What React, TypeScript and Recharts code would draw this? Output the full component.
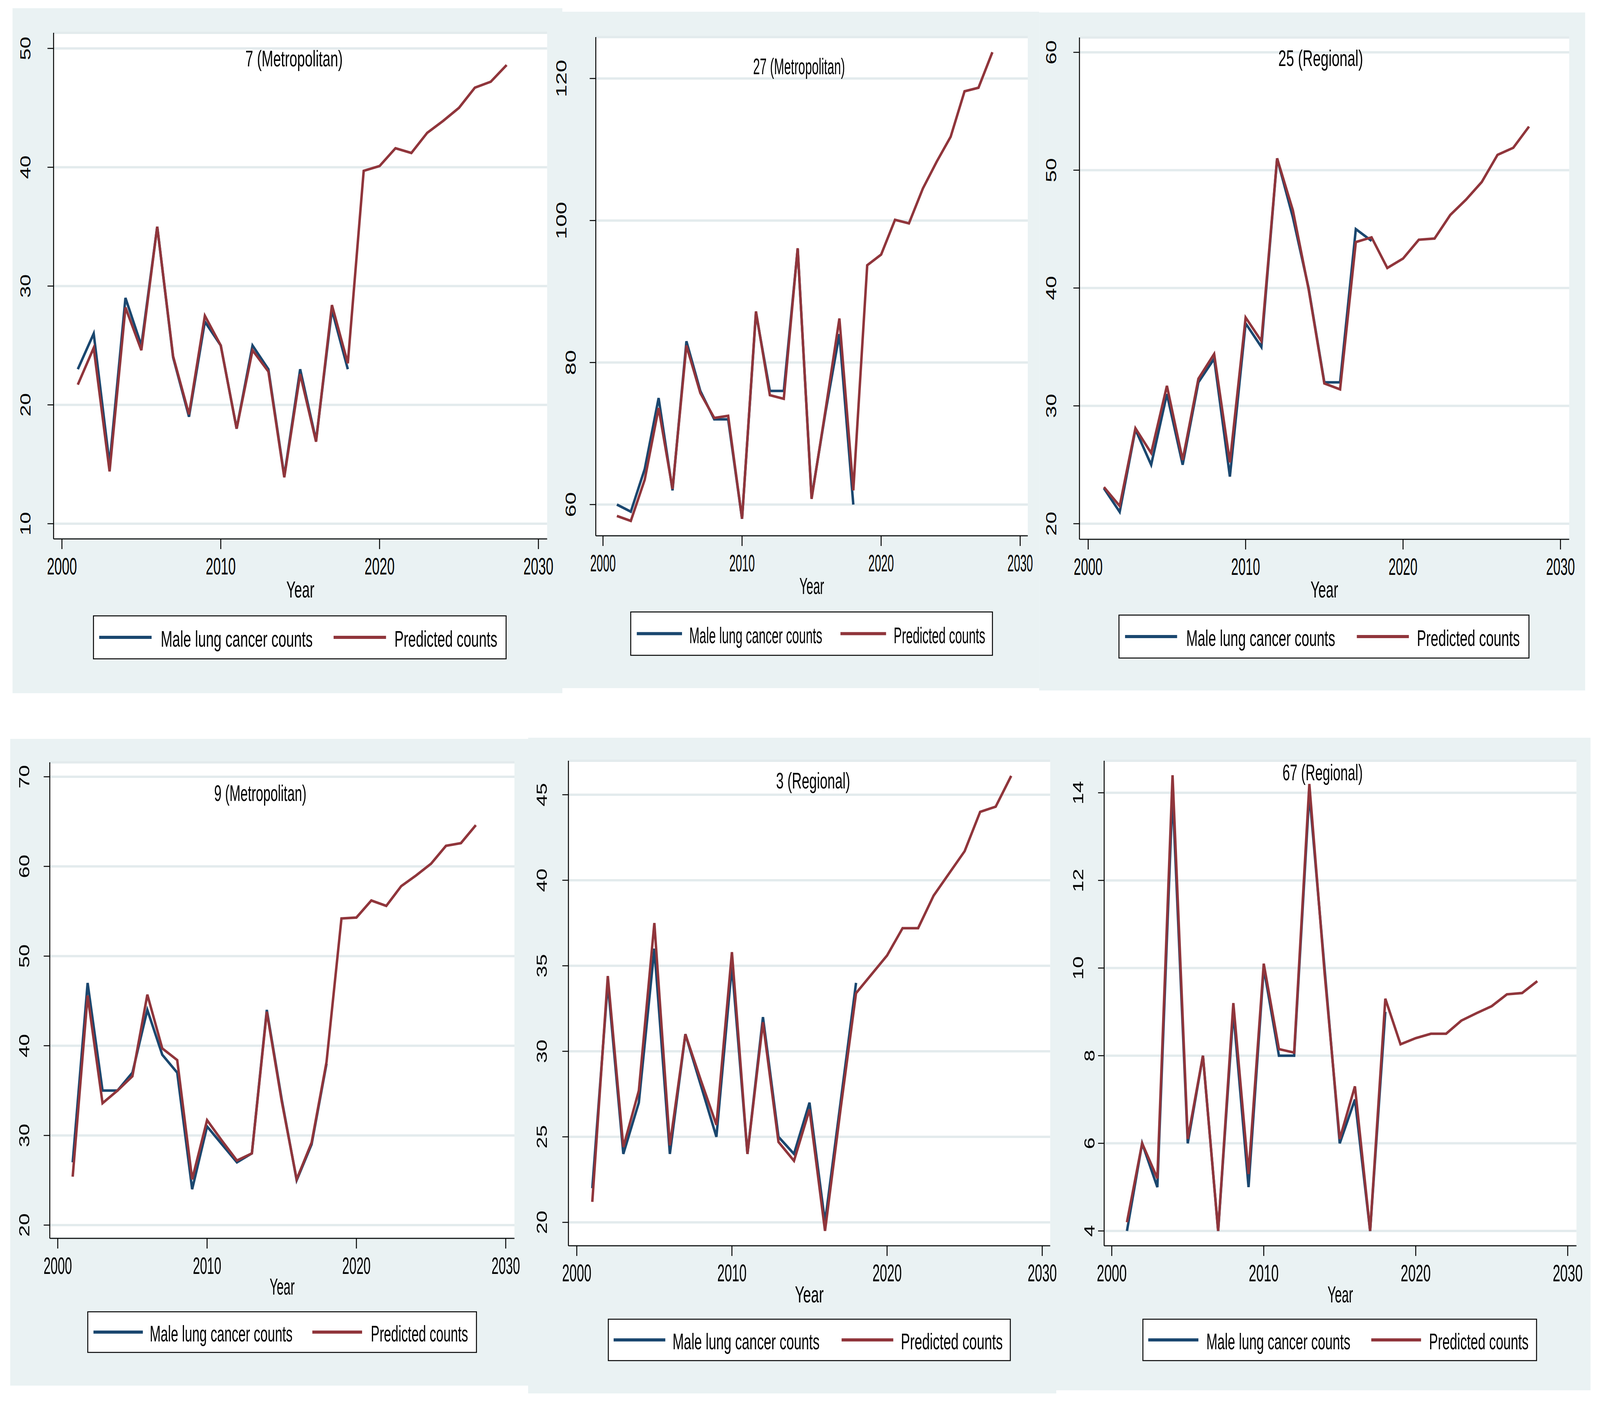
import React from 'react';
import { LineChart, Line, XAxis, YAxis, CartesianGrid } from 'recharts';

// ---------- data ----------
const years = [2001, 2002, 2003, 2004, 2005, 2006, 2007, 2008, 2009, 2010, 2011, 2012, 2013, 2014, 2015, 2016, 2017, 2018, 2019, 2020, 2021, 2022, 2023, 2024, 2025, 2026, 2027, 2028];
const xTickValues = [2000, 2010, 2020, 2030];

const obs7 = [23, 26, 15, 29, 25, 35, 24, 19, 27, 25, 18, 25, 23, 14, 23, 17, 28, 23];
const pred7 = [21.7, 24.8, 14.4, 28.2, 24.6, 35.0, 24.1, 19.2, 27.5, 25.0, 18.0, 24.6, 22.8, 13.9, 22.6, 16.9, 28.4, 23.5, 39.7, 40.1, 41.6, 41.2, 42.9, 43.9, 45.0, 46.7, 47.2, 48.6];
const ticks7 = [10, 20, 30, 40, 50];

const obs27 = [60, 59, 65, 75, 62, 83, 76, 72, 72, 58, 87, 76, 76, 96, 61, 73, 84, 60];
const pred27 = [58.4, 57.7, 63.5, 73.6, 62.2, 82.4, 75.7, 72.2, 72.5, 58.0, 87.2, 75.4, 74.9, 96.1, 60.8, 73.3, 86.2, 62.0, 93.7, 95.2, 100.1, 99.6, 104.5, 108.3, 111.8, 118.2, 118.7, 123.7];
const ticks27 = [60, 80, 100, 120];

const obs25 = [23, 21, 28, 25, 31, 25, 32, 34, 24, 37, 35, 51, 46, 40, 32, 32, 45, 44];
const pred25 = [23.1, 21.5, 28.1, 26.0, 31.7, 25.4, 32.3, 34.4, 25.2, 37.5, 35.5, 51.0, 46.6, 39.9, 31.9, 31.4, 43.9, 44.3, 41.7, 42.5, 44.1, 44.2, 46.2, 47.5, 49.0, 51.3, 51.9, 53.7];
const ticks25 = [20, 30, 40, 50, 60];

const obs9 = [27, 47, 35, 35, 37, 44, 39, 37, 24, 31, 29, 27, 28, 44, 34, 25, 29, 38];
const pred9 = [25.4, 45.6, 33.6, 35.0, 36.6, 45.7, 39.7, 38.4, 25.1, 31.7, 29.4, 27.2, 28.0, 43.8, 33.8, 25.1, 29.2, 38.2, 54.2, 54.3, 56.2, 55.6, 57.8, 59.0, 60.3, 62.3, 62.6, 64.6];
const ticks9 = [20, 30, 40, 50, 60, 70];

const obs3 = [22, 34, 24, 27, 36, 24, 31, 28, 25, 35, 24, 32, 25, 24, 27, 20, 27, 34];
const pred3 = [21.2, 34.4, 24.4, 27.7, 37.5, 24.5, 31.0, 28.3, 25.7, 35.8, 24.0, 31.7, 24.7, 23.6, 26.6, 19.5, 26.6, 33.4, 34.5, 35.6, 37.2, 37.2, 39.1, 40.4, 41.7, 44.0, 44.3, 46.1];
const ticks3 = [20, 25, 30, 35, 40, 45];

const obs67 = [4, 6, 5, 14, 6, 8, 4, 9, 5, 10, 8, 8, 14, 10, 6, 7, 4, 9];
const pred67 = [4.2, 6.0, 5.2, 14.4, 6.1, 8.0, 4.0, 9.2, 5.3, 10.1, 8.15, 8.07, 14.2, 9.9, 6.1, 7.3, 4.0, 9.3, 8.26, 8.4, 8.5, 8.5, 8.8, 8.97, 9.13, 9.4, 9.43, 9.7];
const ticks67 = [4, 6, 8, 10, 12, 14];

const titles = ['7 (Metropolitan)', '27 (Metropolitan)', '25 (Regional)', '9 (Metropolitan)', '3 (Regional)', '67 (Regional)'];
const seriesNames = ['Male lung cancer counts', 'Predicted counts'];
const xTitle = 'Year';

// ---------- styles / layout ----------
const PAGE_W = 4211;
const PAGE_H = 3590;
const BG = '#eaf2f3';
const GRID = '#e3ebed';
const BLUE = '#1a476f';
const RED = '#90353b';
const FONT = "'Liberation Sans', Arial, sans-serif";

// Arial / Liberation Sans advance widths (per 1000 em)
const AW: Record<string, number> = {
  ' ': 278, '(': 333, ')': 333, M: 833, R: 722, Y: 667, P: 667,
  a: 556, c: 500, d: 556, e: 556, g: 556, i: 222, l: 222, n: 556, o: 556, p: 556, r: 333, s: 500, t: 278, u: 556,
};
const natWidth = (s: string, fs: number) =>
  s.split('').reduce((acc, ch) => acc + (AW[ch] !== undefined ? AW[ch] : 556), 0) / 1000 * fs;

function FitText({ x, y, w, fs, anchor, children, rotate }: { x: number; y: number; w: number; fs: number; anchor?: string; children: string; rotate?: boolean }) {
  const k = w / natWidth(children, fs);
  const tf = rotate
    ? `translate(${x},${y}) rotate(-90) scale(${k},1)`
    : `translate(${x},${y}) scale(${k},1)`;
  return (
    <text transform={tf} x={0} y={0} dy={rotate ? fs * 0.358 : 0} textAnchor={anchor || 'start'}
      fontSize={fs} fontFamily={FONT} fill="#000">{children}</text>
  );
}

type Cfg = {
  obs: number[]; pred: number[]; yTicks: number[]; title: string;
  bg: number[]; plot: number[]; xt: number[]; yt: number[];
  ylabOff: number; ylabStep: number; digitLen: number;
  titleX: number; titleY: number; titleW: number;
  xLabW: number; yearW: number; yearDy: number;
  box: number[]; s1: number[]; t1: number[]; s2: number[]; t2: number[];
};

const panels: Cfg[] = [
  { obs: obs7, pred: pred7, yTicks: ticks7, title: titles[0],
    bg: [33, 21, 1480, 1775], plot: [141, 84, 1440, 1380], xt: [163, 1417], yt: [124, 1341],
    ylabOff: 74, ylabStep: 27, digitLen: 30, titleX: 774, titleY: 170, titleW: 256,
    xLabW: 79, yearW: 77, yearDy: 150,
    box: [246, 1577, 1332, 1687], s1: [261, 399], t1: [423, 400], s2: [878, 1016], t2: [1038, 271] },
  { obs: obs27, pred: pred27, yTicks: ticks27, title: titles[1],
    bg: [1450, 30, 2735, 1762], plot: [1568, 95, 2705, 1372], xt: [1587, 2685], yt: [201, 1292],
    ylabOff: 66, ylabStep: 25, digitLen: 32, titleX: 2103, titleY: 190, titleW: 242,
    xLabW: 67, yearW: 68, yearDy: 149,
    box: [1660, 1567, 2612, 1678], s1: [1676, 1795], t1: [1814, 350], s2: [2212, 2332], t2: [2352, 241] },
  { obs: obs25, pred: pred25, yTicks: ticks25, title: titles[2],
    bg: [2735, 32, 4172, 1768], plot: [2841, 96, 4130, 1381], xt: [2864, 4107], yt: [134, 1341],
    ylabOff: 75, ylabStep: 27, digitLen: 31, titleX: 3476, titleY: 169, titleW: 223,
    xLabW: 76, yearW: 76, yearDy: 149,
    box: [2945, 1575, 4024, 1685], s1: [2961, 3098], t1: [3122, 392], s2: [3571, 3708], t2: [3729, 271] },
  { obs: obs9, pred: pred9, yTicks: ticks9, title: titles[3],
    bg: [27, 1892, 1390, 3548], plot: [131, 1952, 1354, 3171], xt: [152, 1331], yt: [1989, 3137],
    ylabOff: 68, ylabStep: 27, digitLen: 30, titleX: 685, titleY: 2051, titleW: 243,
    xLabW: 75, yearW: 69, yearDy: 144,
    box: [231, 3359, 1254, 3463], s1: [246, 376], t1: [394, 376], s2: [822, 953], t2: [976, 256] },
  { obs: obs3, pred: pred3, yTicks: ticks3, title: titles[4],
    bg: [1390, 1889, 2780, 3568], plot: [1496, 1948, 2764, 3190], xt: [1518, 2743], yt: [2035, 3130],
    ylabOff: 70, ylabStep: 27, digitLen: 30, titleX: 2140, titleY: 2019, titleW: 195,
    xLabW: 77, yearW: 79, yearDy: 145,
    box: [1601, 3378, 2659, 3484], s1: [1615, 1751], t1: [1770, 387], s2: [2215, 2351], t2: [2371, 268] },
  { obs: obs67, pred: pred67, yTicks: ticks67, title: titles[5],
    bg: [2780, 1889, 4186, 3560], plot: [2906, 1948, 4149, 3190], xt: [2926, 4126], yt: [2030, 3152],
    ylabOff: 69, ylabStep: 30, digitLen: 30, titleX: 3481, titleY: 1998, titleW: 211,
    xLabW: 79, yearW: 70, yearDy: 145,
    box: [3008, 3378, 4044, 3484], s1: [3022, 3154], t1: [3175, 379], s2: [3609, 3740], t2: [3761, 262] },
];

function PanelBg({ cfg }: { cfg: Cfg }) {
  const [bL, bT, bR, bB] = cfg.bg;
  return <div style={{ position: 'absolute', left: bL, top: bT, width: bR - bL, height: bB - bT, background: BG }} />;
}

function Panel({ cfg }: { cfg: Cfg }) {
  const [bL, bT, bR0, bB] = cfg.bg;
  const bR = Math.min(PAGE_W, bR0 + 60); // transparent extra room so tick labels never clip
  const [pL, pT, pR, pB] = cfg.plot;
  const xUnit = (cfg.xt[1] - cfg.xt[0]) / 30;
  const xDomain = [2000 - (cfg.xt[0] - pL) / xUnit, 2030 + (pR - cfg.xt[1]) / xUnit];
  const yMin = cfg.yTicks[0];
  const yMax = cfg.yTicks[cfg.yTicks.length - 1];
  const yUnit = (cfg.yt[1] - cfg.yt[0]) / (yMax - yMin);
  const yDomain = [yMin - (pB - cfg.yt[1]) / yUnit, yMax + (cfg.yt[0] - pT) / yUnit];
  const data = years.map((year, i) => ({
    year,
    obs: i < cfg.obs.length ? cfg.obs[i] : null,
    pred: cfg.pred[i],
  }));
  const W = bR - bL;
  const H = bB - bT;
  const yAxisW = pL - bL;
  const xAxisH = 200;

  const XTick = (props: any) => (
    <g>
      <FitText x={props.x} y={pB - bT + 91} w={cfg.xLabW} fs={62} anchor="middle">{String(props.payload.value)}</FitText>
    </g>
  );
  const YTick = (props: any) => {
    const s = String(props.payload.value);
    const cx = yAxisW - cfg.ylabOff - (s.length - 2) * cfg.ylabStep;
    return (
      <g>
        <FitText x={cx} y={props.y} w={cfg.digitLen * s.length} fs={38} anchor="middle" rotate>{s}</FitText>
      </g>
    );
  };

  return (
    <div style={{ position: 'absolute', left: bL, top: bT, width: W, height: H }}>
      <LineChart width={W} height={H} data={data}
        margin={{ top: pT - bT, right: bR - pR, bottom: bB - pB - xAxisH, left: 0 }}>
        <CartesianGrid horizontal vertical={false} stroke={GRID} strokeWidth={6} fill="#ffffff" />
        <XAxis type="number" dataKey="year" domain={xDomain} ticks={xTickValues} interval={0}
          allowDataOverflow height={xAxisH} tickSize={26} tick={XTick}
          tickLine={{ stroke: '#000', strokeWidth: 2.5 }} axisLine={{ stroke: '#000', strokeWidth: 2.5 }} />
        <YAxis type="number" domain={yDomain} ticks={cfg.yTicks} interval={0} allowDataOverflow
          width={yAxisW} tickSize={16} tick={YTick}
          tickLine={{ stroke: '#000', strokeWidth: 2.5 }} axisLine={{ stroke: '#000', strokeWidth: 2.5 }} />
        <Line type="linear" dataKey="obs" name={seriesNames[0]} stroke={BLUE} strokeWidth={6.5}
          dot={false} isAnimationActive={false} connectNulls={false} />
        <Line type="linear" dataKey="pred" name={seriesNames[1]} stroke={RED} strokeWidth={6.5}
          dot={false} isAnimationActive={false} />
      </LineChart>
    </div>
  );
}

function Overlay() {
  return (
    <svg width={PAGE_W} height={PAGE_H} style={{ position: 'absolute', left: 0, top: 0, pointerEvents: 'none' }}>
      {panels.map((c, i) => {
        const [bx0, by0, bx1, by1] = c.box;
        const cy = (by0 + by1) / 2;
        const base = cy + 24;
        const midX = (c.plot[0] + c.plot[2]) / 2;
        return (
          <g key={i}>
            <FitText x={c.titleX} y={c.titleY} w={c.titleW} fs={57} anchor="middle">{c.title}</FitText>
            <FitText x={midX} y={c.plot[3] + c.yearDy} w={c.yearW} fs={59} anchor="middle">{xTitle}</FitText>
            <rect x={bx0} y={by0} width={bx1 - bx0} height={by1 - by0} fill="#fff" stroke="#000" strokeWidth={2.5} />
            <line x1={c.s1[0]} x2={c.s1[1]} y1={cy} y2={cy} stroke={BLUE} strokeWidth={8} />
            <FitText x={c.t1[0]} y={base} w={c.t1[1]} fs={58}>{seriesNames[0]}</FitText>
            <line x1={c.s2[0]} x2={c.s2[1]} y1={cy} y2={cy} stroke={RED} strokeWidth={8} />
            <FitText x={c.t2[0]} y={base} w={c.t2[1]} fs={58}>{seriesNames[1]}</FitText>
          </g>
        );
      })}
    </svg>
  );
}

export default function App() {
  const vw = typeof document !== 'undefined' ? document.documentElement.clientWidth || window.innerWidth : PAGE_W;
  const vh = typeof document !== 'undefined' ? document.documentElement.clientHeight || window.innerHeight : PAGE_H;
  const sx = vw > 0 ? Math.min(1, vw / PAGE_W) : 1;
  const sy = vh > 0 ? Math.min(1, vh / PAGE_H) : 1;
  return (
    <div style={{ position: 'fixed', left: 0, top: 0, width: Math.min(vw || PAGE_W, PAGE_W), height: Math.min(vh || PAGE_H, PAGE_H), overflow: 'hidden', background: '#fff' }}>
      <div style={{ position: 'absolute', left: 0, top: 0, width: PAGE_W, height: PAGE_H, transform: `scale(${sx}, ${sy})`, transformOrigin: '0 0' }}>
        {panels.map((c, i) => <PanelBg key={'bg' + i} cfg={c} />)}
        {panels.map((c, i) => <Panel key={i} cfg={c} />)}
        <Overlay />
      </div>
    </div>
  );
}
